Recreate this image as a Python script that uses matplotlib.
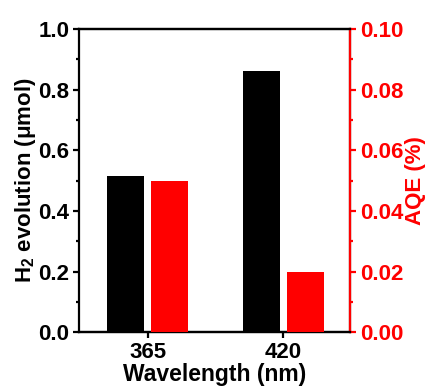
import matplotlib
matplotlib.use("Agg")
import matplotlib.pyplot as plt
import numpy as np
from matplotlib.ticker import MultipleLocator

categories = ["365", "420"]
h2_values = [0.515, 0.862]
aqe_values = [0.050, 0.020]

plt.rcParams['font.family'] = ['Liberation Sans', 'DejaVu Sans']
plt.rcParams['font.weight'] = 'bold'
plt.rcParams['mathtext.fontset'] = 'custom'
plt.rcParams['mathtext.rm'] = 'Liberation Sans:bold'
plt.rcParams['mathtext.default'] = 'rm'

fig = plt.figure(figsize=(4.29, 3.88), dpi=100)
ax = fig.add_axes([0.184, 0.144, 0.632, 0.781])
ax2 = ax.twinx()

x = np.arange(len(categories))
w = 0.274
off = 0.163
ax.bar(x - off, h2_values, width=w, color='black', zorder=3)
ax2.bar(x + off, aqe_values, width=w, color='red', zorder=3)

ax.set_xlim(-0.511, 1.496)
ax.set_ylim(0, 1.0)
ax2.set_ylim(0, 0.10)
ax.set_xticks(x)
ax.set_xticklabels(categories)
ax.yaxis.set_minor_locator(MultipleLocator(0.1))
ax2.yaxis.set_minor_locator(MultipleLocator(0.01))
ax2.set_yticks([0, 0.02, 0.04, 0.06, 0.08, 0.10])
ax2.set_yticklabels(["0.00", "0.02", "0.04", "0.06", "0.08", "0.10"])
ax.set_yticks([0, 0.2, 0.4, 0.6, 0.8, 1.0])
ax.set_yticklabels(["0.0", "0.2", "0.4", "0.6", "0.8", "1.0"])

lw = 1.6
for s in ax.spines.values():
    s.set_linewidth(lw)
for s in ax2.spines.values():
    s.set_linewidth(lw)
ax2.spines['right'].set_color('red')
ax2.spines['left'].set_visible(False)

ax.tick_params(axis='both', which='major', direction='out', length=4, width=lw, labelsize=16, pad=3)
ax.tick_params(axis='y', which='minor', direction='out', length=2, width=lw)
ax.tick_params(axis='x', which='minor', bottom=False)
ax2.tick_params(axis='y', which='major', direction='out', length=4, width=lw, labelsize=16,
                colors='red', pad=3)
ax2.tick_params(axis='y', which='minor', direction='out', length=2, width=lw, colors='red')

ax.set_xlabel("Wavelength (nm)", fontsize=16.5, fontweight='bold', labelpad=0)
ax.set_ylabel("H$_2$ evolution (μmol)", fontsize=16, fontweight='bold', labelpad=0)
ax2.set_ylabel("AQE (%)", fontsize=16, fontweight='bold', color='red', labelpad=1)

fig.savefig("out.png", dpi=100)
